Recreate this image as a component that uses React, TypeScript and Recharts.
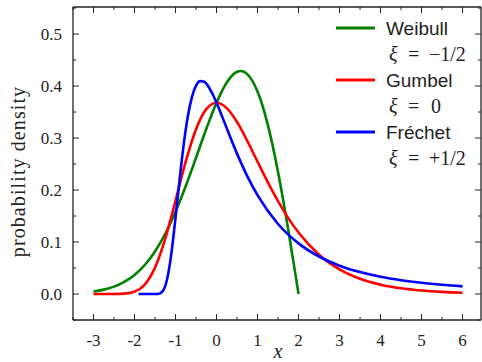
import React from 'react';
import { LineChart, Line, XAxis, YAxis } from 'recharts';

const weibullX = [-3, -2.75, -2.5, -2.25, -2, -1.75, -1.5, -1.25, -1, -0.75, -0.5, -0.25, 0, 0.25, 0.5, 0.6, 0.75, 1, 1.25, 1.5, 1.75, 1.9, 2];
const weibullY = [0.0048, 0.0084, 0.0142, 0.0233, 0.0366, 0.0558, 0.0819, 0.1159, 0.1581, 0.2076, 0.262, 0.3174, 0.3679, 0.4069, 0.4274, 0.429, 0.423, 0.3894, 0.3258, 0.2348, 0.1231, 0.0499, 0];

const gumbelX = [-3, -2.75, -2.5, -2.25, -2, -1.75, -1.5, -1.25, -1, -0.75, -0.5, -0.25, 0, 0.25, 0.5, 0.75, 1, 1.25, 1.5, 1.75, 2, 2.5, 3, 3.5, 4, 4.5, 5, 5.5, 6];
const gumbelY = [0, 0, 0.0001, 0.0007, 0.0046, 0.0182, 0.0507, 0.1064, 0.1794, 0.2549, 0.317, 0.3556, 0.3679, 0.3574, 0.3307, 0.2945, 0.2546, 0.2151, 0.1785, 0.146, 0.1182, 0.0756, 0.0474, 0.0293, 0.018, 0.011, 0.0067, 0.0041, 0.0025];

const frechetX = [-1.9, -1.6, -1.5, -1.4, -1.3, -1.2, -1.1, -1, -0.9, -0.8, -0.7, -0.6, -0.5, -0.4, -0.3, -0.2, -0.1, 0, 0.25, 0.5, 0.75, 1, 1.5, 2, 2.5, 3, 3.5, 4, 4.5, 5, 5.5, 6];
const frechetY = [0, 0, 0, 0.0006, 0.0067, 0.0302, 0.0786, 0.1465, 0.2205, 0.2879, 0.3415, 0.3787, 0.4006, 0.4094, 0.4081, 0.3992, 0.3851, 0.3679, 0.3187, 0.27, 0.2267, 0.19, 0.1346, 0.0974, 0.0721, 0.0545, 0.0421, 0.0331, 0.0265, 0.0215, 0.0177, 0.0147];

const seriesNames = ['Weibull', 'Gumbel', 'Fréchet'];
const seriesXiSign = ['\u2212', '', '+'];
const seriesXiValue = ['1/2', '0', '1/2'];
const seriesColors = ['#008000', '#ff0000', '#0000ff'];

const xDomain = [-3.5, 6.45];
const yDomain = [-0.05, 0.552];
const xTicks = [-3.5, -3, -2.5, -2, -1.5, -1, -0.5, 0, 0.5, 1, 1.5, 2, 2.5, 3, 3.5, 4, 4.5, 5, 5.5, 6];
const yTicks = [-0.05, 0, 0.05, 0.1, 0.15, 0.2, 0.25, 0.3, 0.35, 0.4, 0.45, 0.5, 0.55];

const toPoints = (xs: number[], ys: number[]) => xs.map((x, i) => ({ x, y: ys[i] }));
const weibullData = toPoints(weibullX, weibullY);
const gumbelData = toPoints(gumbelX, gumbelY);
const frechetData = toPoints(frechetX, frechetY);
const seriesData = [weibullData, gumbelData, frechetData];

const SERIF = '"Liberation Serif", "Times New Roman", serif';
const SANS = '"Liberation Sans", Arial, sans-serif';
const INK = '#222';

// plot box (layout)
const PL = 73;
const PT = 7;
const PW = 408;
const PH = 313;
const sx = (v: number) => PL + ((v - xDomain[0]) / (xDomain[1] - xDomain[0])) * PW;
const sy = (v: number) => PT + PH - ((v - yDomain[0]) / (yDomain[1] - yDomain[0])) * PH;

const isMajor = (v: number) => Math.abs(v - Math.round(v)) < 1e-6;
const isMajorY = (v: number) => Math.abs(v * 10 - Math.round(v * 10)) < 1e-6;

const BottomTick = (props: any) => {
  const { x, y, payload } = props;
  const v = payload.value as number;
  const len = isMajor(v) ? 6 : 3;
  return (
    <g>
      <line x1={x} x2={x} y1={y} y2={y - len} stroke={INK} strokeWidth={1} />
      {isMajor(v) && v >= -3 && (
        <text x={x} y={y + 26} textAnchor="middle" fontFamily={SERIF} fontSize={17} fill={INK}>
          {v < 0 ? '-' + Math.abs(v) : String(v)}
        </text>
      )}
    </g>
  );
};

const LeftTick = (props: any) => {
  const { x, y, payload } = props;
  const v = payload.value as number;
  const major = isMajorY(v);
  const len = major ? 6 : 3;
  return (
    <g>
      <line x1={x} x2={x + len} y1={y} y2={y} stroke={INK} strokeWidth={1} />
      {major && v >= 0 && v <= 0.5 && (
        <text x={x - 11} y={y + 6} textAnchor="end" fontFamily={SERIF} fontSize={17} fill={INK}>
          {v.toFixed(1)}
        </text>
      )}
    </g>
  );
};

const Overlay = () => (
  <svg width={482} height={362} style={{ position: 'absolute', left: 0, top: 0, pointerEvents: 'none' }}>
    <line x1={PL} x2={PL + PW} y1={PT} y2={PT} stroke={INK} strokeWidth={1.3} />
    <line x1={PL + PW} x2={PL + PW} y1={PT} y2={PT + PH} stroke={INK} strokeWidth={1.3} />
    {xTicks.map((t) => (
      <line key={'tx' + t} x1={sx(t)} x2={sx(t)} y1={PT} y2={PT + (isMajor(t) ? 6 : 3)} stroke={INK} strokeWidth={1} />
    ))}
    {yTicks.map((t) => (
      <line key={'ty' + t} x1={PL + PW} x2={PL + PW - (isMajorY(t) ? 6 : 3)} y1={sy(t)} y2={sy(t)} stroke={INK} strokeWidth={1} />
    ))}
    {seriesNames.map((name, i) => {
      const y0 = 28 + i * 52;
      return (
        <g key={name}>
          <line x1={336} x2={375} y1={y0} y2={y0} stroke={seriesColors[i]} strokeWidth={3} />
          <text x={386} y={y0 + 6.5} fontFamily={SANS} fontSize={19} fill={INK}>{name}</text>
          <text y={y0 + 33} fontFamily={SERIF} fontSize={20} fill={INK}>
            <tspan x={389} fontStyle="italic">ξ</tspan>
            <tspan x={408}>=</tspan>
            <tspan x={seriesXiSign[i] ? 429 : 431}>{seriesXiSign[i]}{seriesXiValue[i]}</tspan>
          </text>
        </g>
      );
    })}
  </svg>
);

export default function App() {
  return (
    <div style={{ position: 'absolute', left: 0, top: 0, width: 482, height: 362, background: '#fff' }}>
      <LineChart width={482} height={362} margin={{ top: PT, right: 482 - PL - PW, bottom: 0, left: 0 }}>
        <XAxis
          xAxisId="b"
          type="number"
          dataKey="x"
          domain={xDomain}
          ticks={xTicks}
          interval={0}
          height={362 - PT - PH}
          tickSize={0}
          tickMargin={0}
          tick={<BottomTick />}
          axisLine={{ stroke: INK, strokeWidth: 1.3 }}
          allowDataOverflow
          label={{
            content: () => (
              <text x={278} y={358} textAnchor="middle" fontFamily={SERIF} fontStyle="italic" fontSize={20} fill={INK}>x</text>
            ),
          }}
        />
        <YAxis
          yAxisId="l"
          type="number"
          domain={yDomain}
          ticks={yTicks}
          interval={0}
          width={PL}
          tickSize={0}
          tickMargin={0}
          tick={<LeftTick />}
          axisLine={{ stroke: INK, strokeWidth: 1.3 }}
          allowDataOverflow
          label={{
            content: (p: any) => {
              const cx = 18;
              const cy = p.viewBox.y + p.viewBox.height / 2 + 8;
              return (
                <text x={cx} y={cy} transform={`rotate(-90 ${cx} ${cy})`} textAnchor="middle" dominantBaseline="central" fontFamily={SERIF} fontSize={20} letterSpacing={1.1} fill={INK}>
                  probability density
                </text>
              );
            },
          }}
        />
        {seriesData.map((d, i) => (
          <Line
            key={seriesNames[i]}
            xAxisId="b"
            yAxisId="l"
            data={d}
            dataKey="y"
            type="monotone"
            stroke={seriesColors[i]}
            strokeWidth={2.6}
            dot={false}
            activeDot={false}
            isAnimationActive={false}
          />
        ))}
      </LineChart>
      <Overlay />
    </div>
  );
}
